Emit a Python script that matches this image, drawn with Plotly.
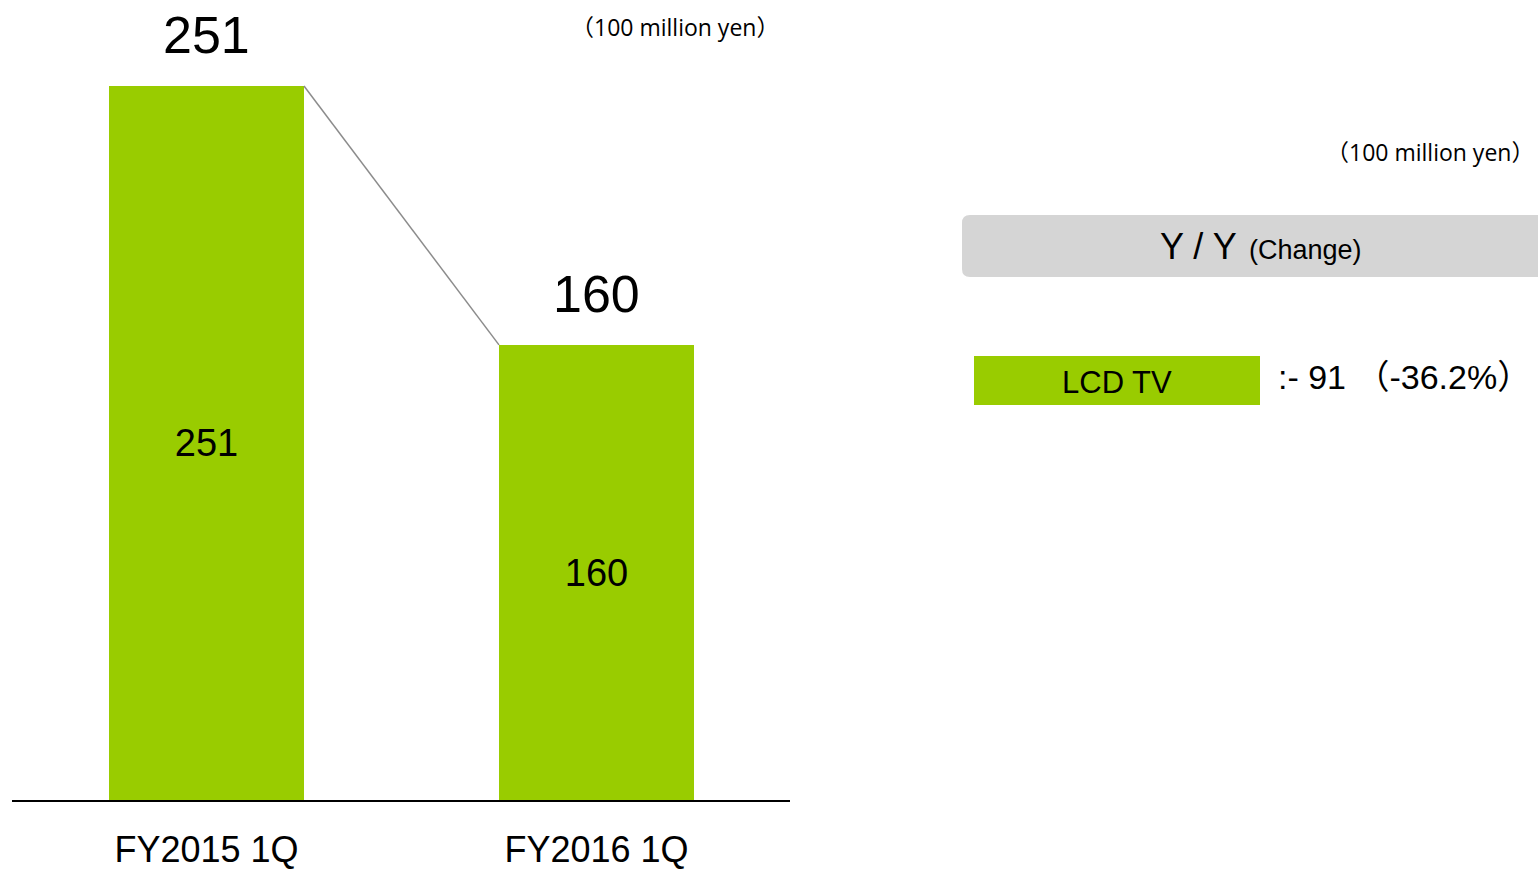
import plotly.graph_objects as go

# Daten
periods = ["FY2015 1Q", "FY2016 1Q"]
sales = [251, 160]
segment = "LCD TV"
change_abs = [-91]
change_pct = [-36.2]
unit_label = "（100 million yen）"

W, H = 1538, 871
GREEN = "#99cc00"
ARIAL = "Liberation Sans, Arial, Noto Sans CJK JP"
CALIBRI = "Open Sans, Noto Sans CJK JP"

def px(x):
    return x / W

def py(y):
    return 1 - y / H

x_pos = list(range(len(periods)))
bar_w = 0.5

fig = go.Figure()

# Balken
fig.add_trace(go.Bar(
    x=x_pos,
    y=sales,
    width=bar_w,
    marker=dict(color=GREEN, line=dict(width=0)),
    text=[str(v) for v in sales],
    textposition="inside",
    insidetextanchor="middle",
    textfont=dict(family=ARIAL, size=38, color="black"),
    showlegend=False,
    hoverinfo="skip",
))

# Verbindungslinie zwischen den Balken
fig.add_trace(go.Scatter(
    x=[x_pos[0] + bar_w / 2, x_pos[1] - bar_w / 2],
    y=[sales[0], sales[1]],
    mode="lines",
    line=dict(color="#8c8c8c", width=1.5),
    showlegend=False,
    hoverinfo="skip",
))

# Werte ueber den Balken
for xp, v in zip(x_pos, sales):
    fig.add_annotation(
        x=xp, y=v, xref="x", yref="y",
        text=str(v), showarrow=False,
        xanchor="center", yanchor="bottom", yshift=20,
        font=dict(family=ARIAL, size=52, color="black"),
    )

def note(x, y, text, size, family, xanchor="center"):
    fig.add_annotation(
        x=px(x), y=py(y), xref="paper", yref="paper",
        text=text, showarrow=False,
        xanchor=xanchor, yanchor="middle",
        font=dict(family=family, size=size, color="black"),
    )

# Einheiten
note(675, 27, unit_label, 23, CALIBRI)
note(1430, 152, unit_label, 23, CALIBRI)

# Graue Box "Y / Y (Change)"
x0, x1, y0, y1, r = px(962), px(1545), py(277), py(215), 8
rx, ry = r / W, r / H
path = (
    f"M {x0+rx},{y0} L {x1-rx},{y0} Q {x1},{y0} {x1},{y0+ry} "
    f"L {x1},{y1-ry} Q {x1},{y1} {x1-rx},{y1} "
    f"L {x0+rx},{y1} Q {x0},{y1} {x0},{y1-ry} "
    f"L {x0},{y0+ry} Q {x0},{y0} {x0+rx},{y0} Z"
)
fig.add_shape(type="path", path=path, xref="paper", yref="paper",
              fillcolor="#d5d5d5", line=dict(width=0), layer="below")
note(1239, 246, "Y / Y", 36, ARIAL, xanchor="right")
note(1247, 250, "(Change)", 27, ARIAL, xanchor="left")

# Gruene Box "LCD TV"
fig.add_shape(type="rect", xref="paper", yref="paper",
              x0=px(974), x1=px(1260), y0=py(405), y1=py(356),
              fillcolor=GREEN, line=dict(width=0))
note(1117, 382, segment, 31, "Liberation Sans Narrow, " + ARIAL)
note(1276, 377, f":- {abs(change_abs[0])} （{change_pct[0]:.1f}%）", 34, ARIAL, xanchor="left")

fig.update_layout(
    width=W, height=H,
    autosize=False,
    margin=dict(l=0, r=0, t=0, b=0),
    paper_bgcolor="white",
    plot_bgcolor="white",
    bargap=0,
    xaxis=dict(
        domain=[px(12), px(790)],
        range=[-194.5 / 390, (778 - 194.5) / 390],
        tickvals=x_pos,
        ticktext=periods,
        tickfont=dict(family=ARIAL, size=36, color="black"),
        showline=True, linecolor="black", linewidth=1.5,
        showgrid=False, zeroline=False, ticks="",
        ticklabelstandoff=17,
        automargin=False,
    ),
    yaxis=dict(
        domain=[71 / H, 1],
        range=[0, 251 * 800 / 714],
        visible=False,
        showgrid=False, zeroline=False,
        automargin=False,
    ),
)

fig.write_html(
    "out.html",
    config={"displayModeBar": False, "responsive": False},
    post_script=(
        "document.documentElement.style.overflow='hidden';"
        "document.body.style.margin='0';document.body.style.overflow='hidden';"
    ),
)
